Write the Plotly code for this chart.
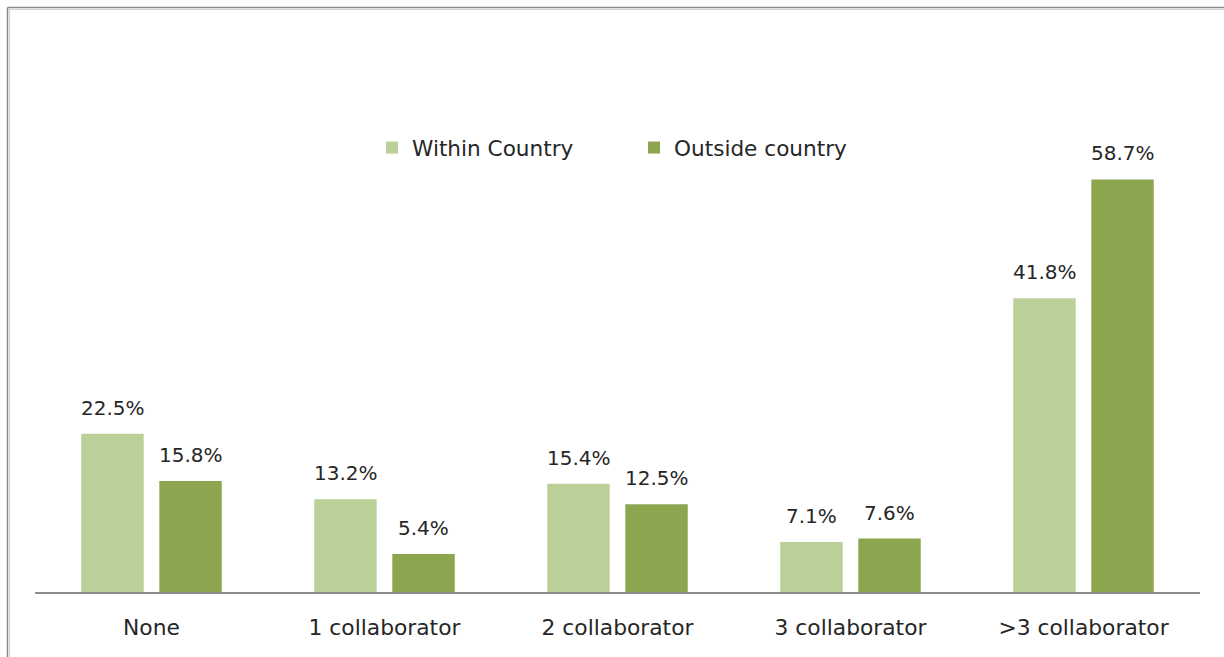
import plotly.graph_objects as go

categories = ["None", "1 collaborator", "2 collaborator", "3 collaborator", ">3 collaborator"]
within_country = [22.5, 13.2, 15.4, 7.1, 41.8]
outside_country = [15.8, 5.4, 12.5, 7.6, 58.7]
series_names = ["Within Country", "Outside country"]

LIGHT = "#BBCF99"
DARK = "#8BA64F"
TEXT = "#262626"
FONT = "DejaVu Sans"

W, H = 1224, 657
ML, MR, MT, MB = 35, 24, 100, 65
PW, PH = W - ML - MR, H - MT - MB


def px_x(p):
    return (p - ML) / PW


def px_y(p):
    return (H - MB - p) / PH


fig = go.Figure()
fig.add_trace(go.Bar(name=series_names[0], x=categories, y=within_country,
                     marker=dict(color=LIGHT, line=dict(width=0))))
fig.add_trace(go.Bar(name=series_names[1], x=categories, y=outside_country,
                     marker=dict(color=DARK, line=dict(width=0))))

# value labels above each bar
annotations = []
for vals, shift in ((within_country, -39), (outside_country, 39)):
    for cat, v in zip(categories, vals):
        annotations.append(dict(x=cat, y=v, xref="x", yref="y", text=f"{v:.1f}%",
                                showarrow=False, yanchor="bottom", xshift=shift, yshift=12,
                                font=dict(family=FONT, size=20, color=TEXT)))

# chart frame: only the top and left edges fall inside the page
shapes = []
for pos, color, width in ((7.5, "#8a8a8a", 1.5), (9.5, "#d4d4d4", 1.2)):
    shapes.append(dict(type="line", xref="paper", yref="paper",
                       x0=px_x(pos), x1=px_x(W + 20), y0=px_y(pos), y1=px_y(pos),
                       line=dict(color=color, width=width), layer="above"))
    shapes.append(dict(type="line", xref="paper", yref="paper",
                       x0=px_x(pos), x1=px_x(pos), y0=px_y(pos), y1=px_y(H + 20),
                       line=dict(color=color, width=width), layer="above"))

fig.update_layout(
    width=W, height=H,
    margin=dict(l=ML, r=MR, t=MT, b=MB, autoexpand=False),
    paper_bgcolor="white", plot_bgcolor="white",
    barmode="group", bargap=0.33, bargroupgap=0.2,
    font=dict(family=FONT, size=20, color=TEXT),
    showlegend=True,
    legend=dict(orientation="h", x=px_x(372), xanchor="left", y=px_y(148), yanchor="middle",
                entrywidth=217, entrywidthmode="pixels", itemwidth=30,
                font=dict(family=FONT, size=21.6, color=TEXT), bgcolor="rgba(0,0,0,0)"),
    annotations=annotations,
    shapes=shapes,
)
fig.update_xaxes(showline=True, linecolor="#8c8c8c", linewidth=1.5, ticks="",
                 showgrid=False, ticklabelstandoff=15,
                 tickfont=dict(family=FONT, size=21.8, color=TEXT))
fig.update_yaxes(range=[0, 70], visible=False, showgrid=False, zeroline=False)

fig.write_html("out.html")
